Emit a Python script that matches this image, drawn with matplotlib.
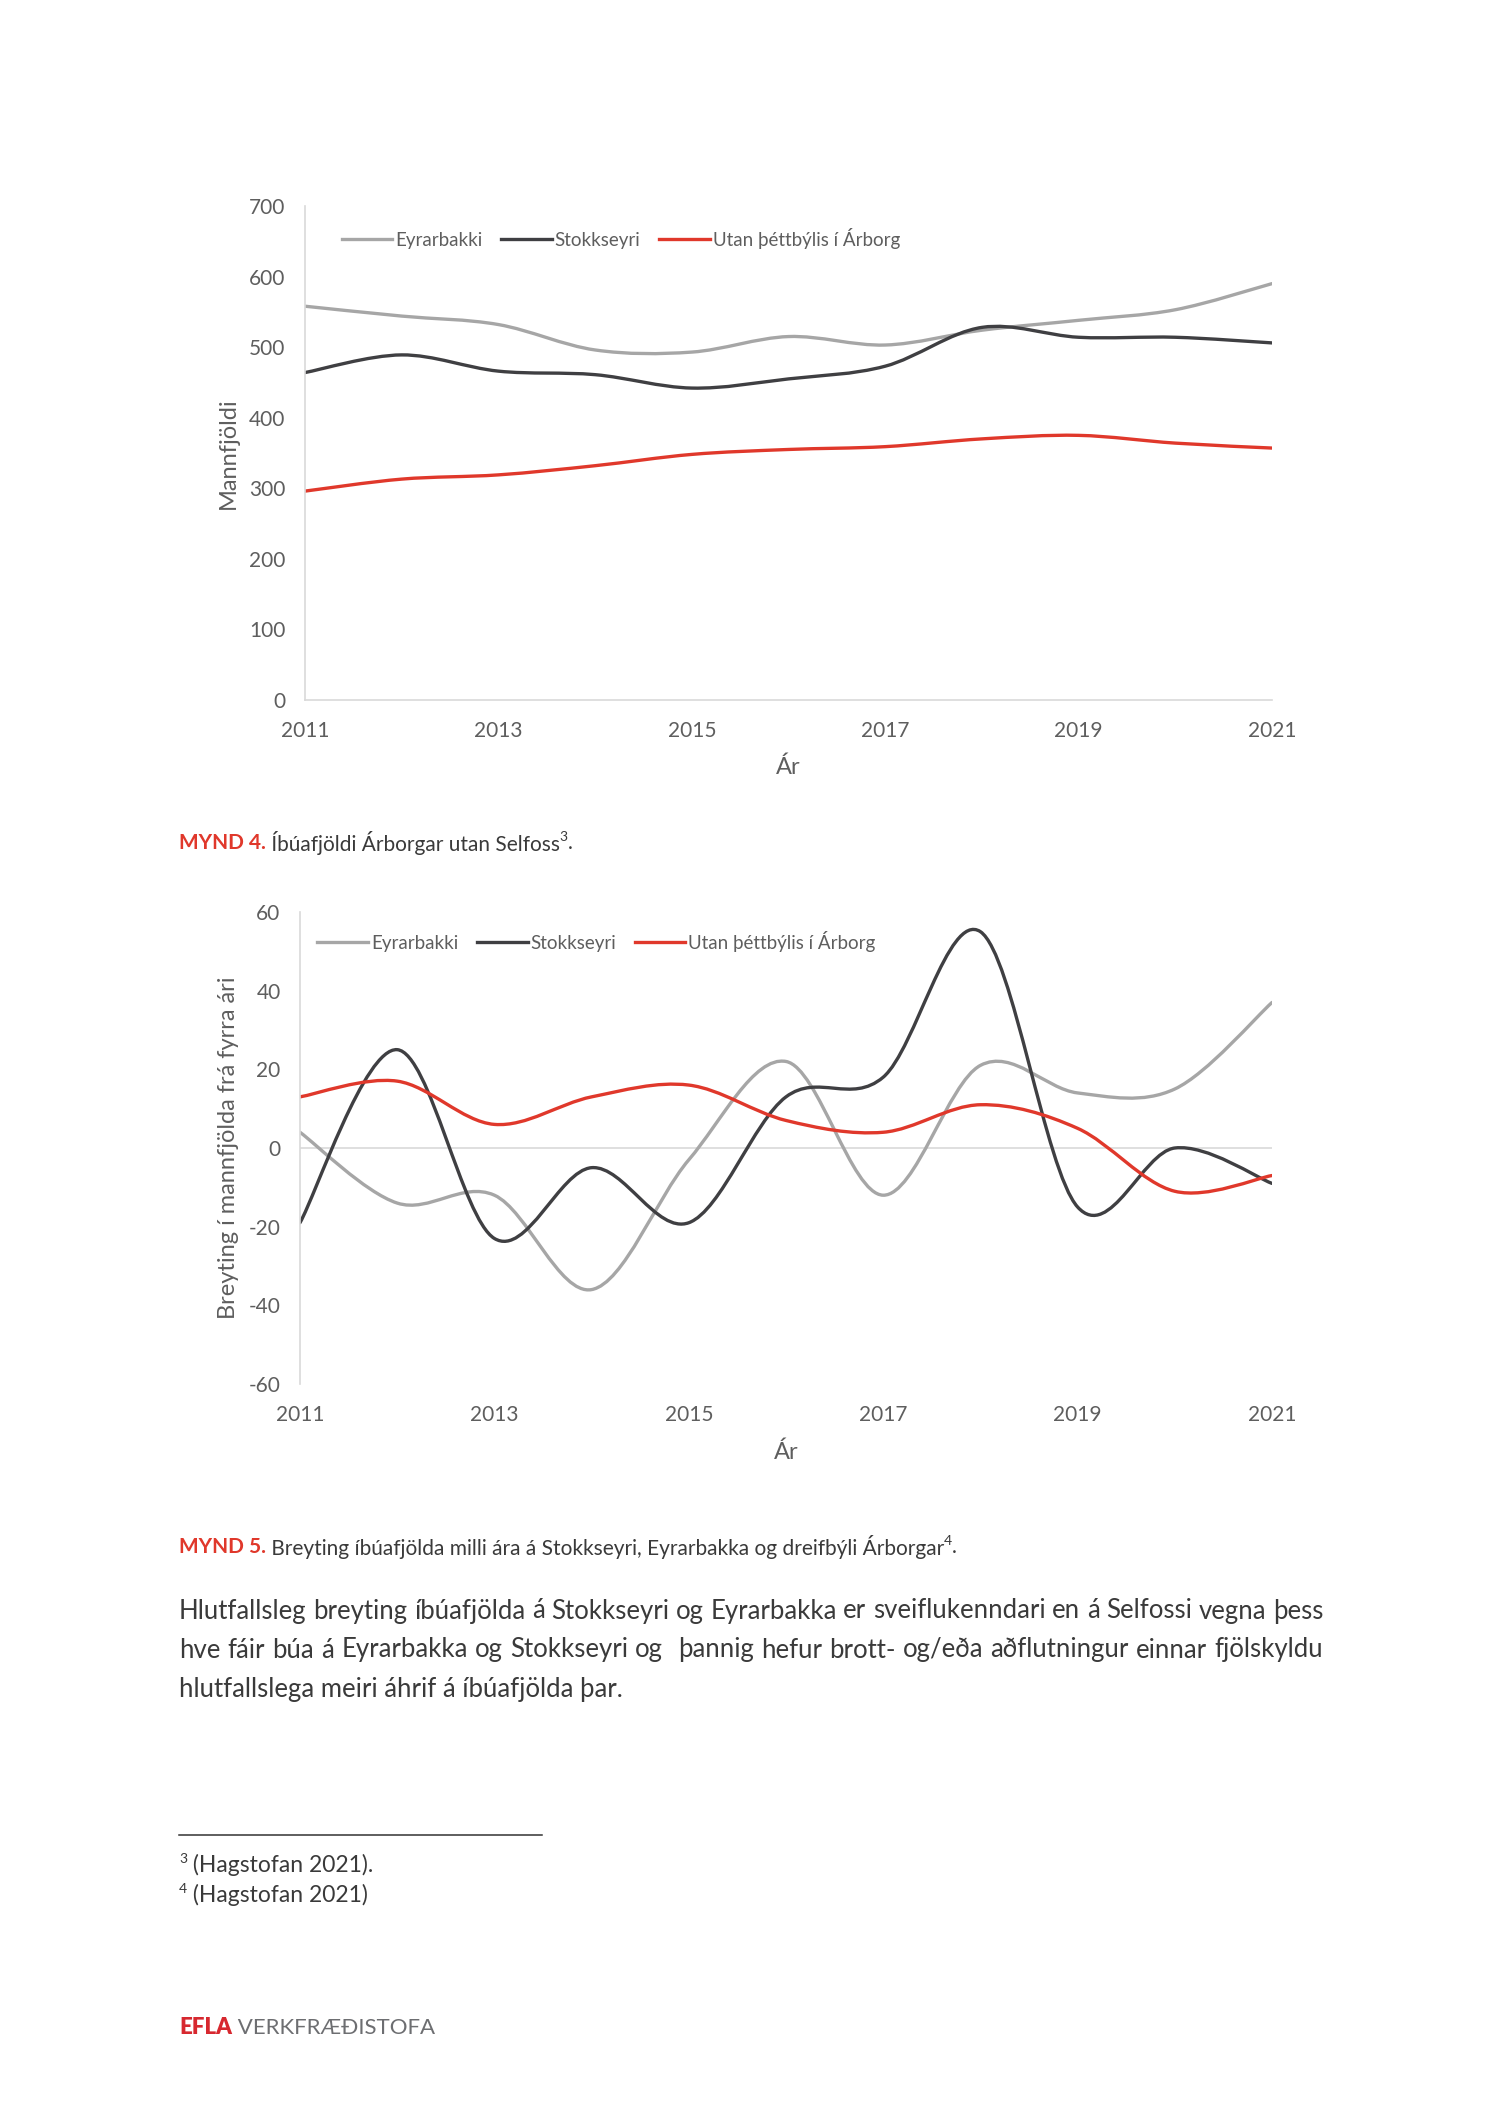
import numpy as np
import matplotlib
matplotlib.use("agg")
import matplotlib.pyplot as plt
from matplotlib.path import Path
from matplotlib.patches import PathPatch
from matplotlib.lines import Line2D

plt.rcParams['font.family'] = ['Lato', 'DejaVu Sans']
plt.rcParams['axes.unicode_minus'] = False

# ---- data -------------------------------------------------------------
years = [2011, 2012, 2013, 2014, 2015, 2016, 2017, 2018, 2019, 2020, 2021]
series_names = ["Eyrarbakki", "Stokkseyri", "Utan þéttbýlis í Árborg"]

# Mynd 4: population
pop_eyrarbakki = [558, 544, 532, 496, 493, 515, 503, 524, 538, 553, 590]
pop_stokkseyri = [464, 489, 466, 461, 442, 455, 473, 528, 514, 514, 506]
pop_utan = [296, 313, 319, 332, 348, 355, 359, 370, 375, 364, 357]

# Mynd 5: change from previous year
chg_eyrarbakki = [4, -14, -12, -36, -3, 22, -12, 21, 14, 15, 37]
chg_stokkseyri = [-19, 25, -23, -5, -19, 13, 18, 55, -15, 0, -9]
chg_utan = [13, 17, 6, 13, 16, 7, 4, 11, 5, -11, -7]

colors = ["#A6A6A6", "#3F3F42", "#E0382B"]
red = "#E0382B"
textgray = "#5E5E5E"
bodygray = "#3A3A3A"
axisgray = "#D9D9D9"

W, H = 1500, 2122
fig = plt.figure(figsize=(W / 100, H / 100), dpi=100)


def box(left, top, right, bottom):
    return [left / W, 1 - bottom / H, (right - left) / W, (bottom - top) / H]


def smooth(x, y):
    # Excel style smoothed line as cubic bezier segments
    pts = np.column_stack([x, y]).astype(float)
    n = len(pts)
    verts = [pts[0]]
    codes = [Path.MOVETO]
    for i in range(n - 1):
        p0 = pts[max(i - 1, 0)]
        p1 = pts[i]
        p2 = pts[i + 1]
        p3 = pts[min(i + 2, n - 1)]
        verts += [p1 + (p2 - p0) / 6, p2 - (p3 - p1) / 6, p2]
        codes += [Path.CURVE4] * 3
    return Path(verts, codes)


def style_axes(ax, ylabel, ylabel_x, xlabel_y):
    ax.set_xlim(2011, 2021)
    ax.set_xticks(years[::2])
    for s in ["top", "right"]:
        ax.spines[s].set_visible(False)
    ax.spines["left"].set_color(axisgray)
    ax.spines["left"].set_linewidth(1.2)
    ax.tick_params(length=0, labelsize=15, labelcolor=textgray)
    ax.tick_params(axis="y", pad=14)
    ax.tick_params(axis="x", pad=15)
    ax.set_ylabel(ylabel, fontsize=17, color=textgray, va="center")
    ax.yaxis.set_label_coords(ylabel_x, 0.5)
    ax.set_xlabel("Ár", fontsize=17, color=textgray, va="center")
    ax.xaxis.set_label_coords(0.5, xlabel_y)


def draw_lines(ax, data):
    for vals, c in zip(data, colors):
        ax.add_patch(PathPatch(smooth(years, vals), fill=False, edgecolor=c,
                               lw=2.4, capstyle="round", joinstyle="round"))
    handles = [Line2D([], [], color=c, lw=2.4) for c in colors]
    return handles


def legend(ax, handles, x, y):
    ax.legend(handles, series_names, loc="center left", bbox_to_anchor=(x, y),
              ncol=3, frameon=False, fontsize=13.5, labelcolor=textgray,
              handlelength=2.7, handletextpad=0.15, columnspacing=1.0,
              borderpad=0, borderaxespad=0)


# ---- Mynd 4 -----------------------------------------------------------
ax1 = fig.add_axes(box(305, 206, 1272, 700))
h = draw_lines(ax1, [pop_eyrarbakki, pop_stokkseyri, pop_utan])
ax1.set_ylim(0, 700)
ax1.set_yticks(range(0, 701, 100))
style_axes(ax1, "Mannfjöldi", -0.0795, -0.137)
ax1.spines["bottom"].set_color(axisgray)
ax1.spines["bottom"].set_linewidth(1.2)
legend(ax1, h, 0.038, 0.935)

# ---- Mynd 5 -----------------------------------------------------------
ax2 = fig.add_axes(box(300, 912, 1272, 1384))
ax2.axhline(0, color=axisgray, lw=1.2, zorder=0)
h = draw_lines(ax2, [chg_eyrarbakki, chg_stokkseyri, chg_utan])
ax2.set_ylim(-60, 60)
ax2.set_yticks(range(-60, 61, 20))
style_axes(ax2, "Breyting í mannfjölda frá fyrra ári", -0.074, -0.145)
ax2.spines["bottom"].set_visible(False)
legend(ax2, h, 0.018, 0.938)

# ---- page text --------------------------------------------------------
renderer = fig.canvas.get_renderer()


def chain(parts, x, y):
    # parts: list of (text, kwargs, raise_px)
    for txt, kw, up in parts:
        t = fig.text(x / W, 1 - (y - up) / H, txt, va="center", ha="left", **kw)
        x = t.get_window_extent(renderer).x1
    return x


cap_kw = dict(fontsize=15, color=bodygray)
sup_kw = dict(fontsize=10, color=bodygray)
chain([("MYND 4.", dict(fontsize=15, color=red, fontweight="bold"), 0),
       (" Íbúafjöldi Árborgar utan Selfoss", cap_kw, 0),
       ("3", sup_kw, 6),
       (".", cap_kw, 0)], 179, 843)
chain([("MYND 5.", dict(fontsize=15, color=red, fontweight="bold"), 0),
       (" Breyting íbúafjölda milli ára á Stokkseyri, Eyrarbakka og dreifbýli Árborgar", cap_kw, 0),
       ("4", sup_kw, 6),
       (".", cap_kw, 0)], 179, 1547)

body = [
    "Hlutfallsleg breyting íbúafjölda á Stokkseyri og Eyrarbakka er sveiflukenndari en á Selfossi vegna þess",
    "hve fáir búa á Eyrarbakka og Stokkseyri og  þannig hefur brott- og/eða aðflutningur einnar fjölskyldu",
    "hlutfallslega meiri áhrif á íbúafjölda þar.",
]
body_y = [1611, 1650, 1690]
for i, (line, y) in enumerate(zip(body, body_y)):
    words = line.split(" ")
    if i == len(body) - 1:
        fig.text(179 / W, 1 - y / H, line, fontsize=18.5, color=bodygray, va="center")
        continue
    texts = [fig.text(0, 1 - y / H, w, fontsize=18.5, color=bodygray, va="center") for w in words]
    widths = [t.get_window_extent(renderer).width for t in texts]
    gap = (1323 - 179 - sum(widths)) / (len(words) - 1)
    x = 179
    for t, w in zip(texts, widths):
        t.set_x(x / W)
        x += w + gap

fig.add_artist(Line2D([179 / W, 542 / W], [1 - 1835 / H] * 2, color="#333333", lw=1.1))
chain([("3", dict(fontsize=10, color=bodygray), 6),
       (" (Hagstofan 2021).", dict(fontsize=16.5, color=bodygray), 0)], 179, 1865)
chain([("4", dict(fontsize=10, color=bodygray), 6),
       (" (Hagstofan 2021)", dict(fontsize=16.5, color=bodygray), 0)], 179, 1895)

chain([("EFLA", dict(fontsize=16, color="#D7282F", fontweight="heavy"), 0),
       (" VERKFRÆÐISTOFA", dict(fontsize=16, color="#6D6E71"), 0)], 179, 2028)

fig.savefig("out.png", dpi=100)
